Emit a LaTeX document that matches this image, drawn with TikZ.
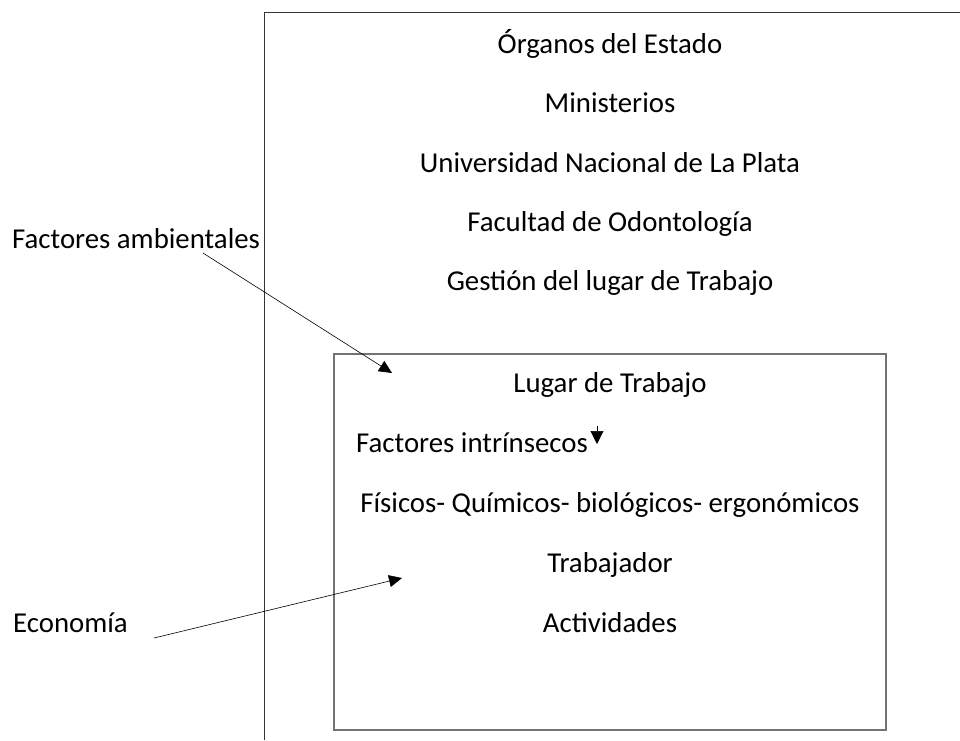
\documentclass[tikz,border=0pt]{standalone}
\usepackage{fontspec}
\setmainfont{Carlito}
\usetikzlibrary{arrows.meta}

\begin{document}
\begin{tikzpicture}[x=1pt,y=-1pt,
  texto/.style={font=\fontsize{28.8}{32}\selectfont, inner sep=0pt, anchor=base},
  flecha/.style={-{Triangle[length=13pt,width=12pt]}, line width=0.6pt}]
\useasboundingbox (0,0) rectangle (960,740);
% recuadro exterior e interior
\draw[line width=0.9pt, black!80] (264,740) -- (264,12) -- (960,12);
\draw[line width=1.4pt, black!55] (334,354) rectangle (886,730);
% textos
\node[texto] (organos) at (610,53) {Órganos del Estado};
\node[texto] (ministerios) at (610,112) {Ministerios};
\node[texto] (unlp) at (610,172) {Universidad Nacional de La Plata};
\node[texto] (facultad) at (610,231) {Facultad de Odontología};
\node[texto] (gestion) at (610,290) {Gestión del lugar de Trabajo};
\node[texto] (lugar) at (610,392) {Lugar de Trabajo};
\node[texto, anchor=base west] (intrinsecos) at (356,452) {Factores intrínsecos};
\node[texto] (fisicos) at (610,512) {Físicos- Químicos- biológicos- ergonómicos};
\node[texto] (trabajador) at (610,572) {Trabajador};
\node[texto] (actividades) at (610,632) {Actividades};
\node[texto, anchor=base west] (ambientales) at (12,248) {Factores ambientales};
\node[texto, anchor=base west] (economia) at (13,632) {Economía};
% flechas
\coordinate (amb1) at (203,253);
\coordinate (amb2) at (392,373);
\coordinate (eco1) at (154,638);
\coordinate (eco2) at (402,578);
\coordinate (int1) at (597,426);
\coordinate (int2) at (597,444);
\draw[flecha] (amb1) -- (amb2);
\draw[flecha] (eco1) -- (eco2);
\draw[-{Triangle[length=13pt,width=13pt]}, line width=0.6pt] (int1) -- (int2);
\end{tikzpicture}
\end{document}
